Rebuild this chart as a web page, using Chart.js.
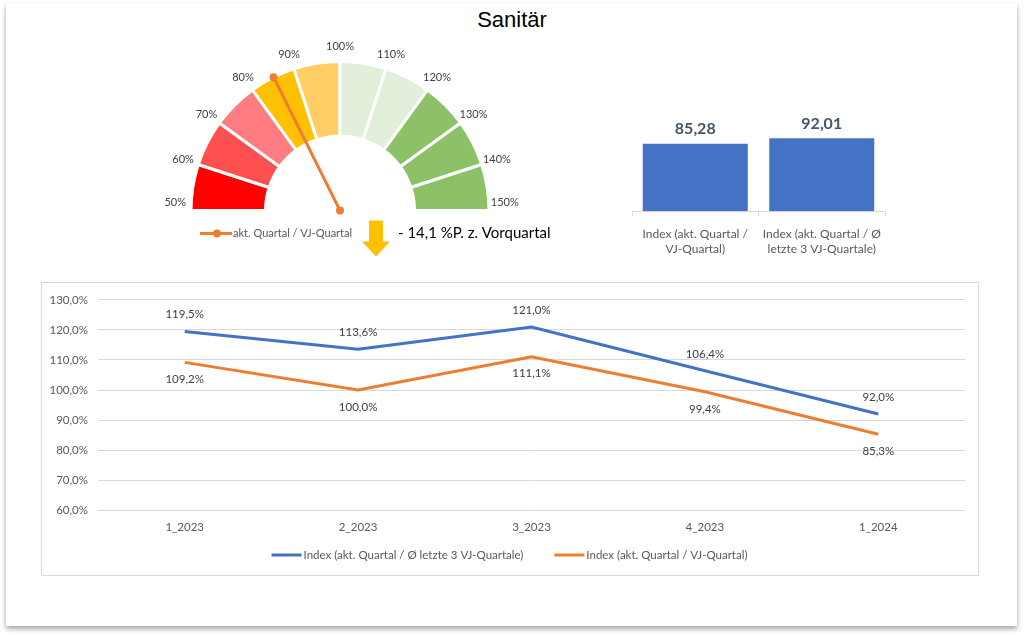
<!DOCTYPE html>
<html>
<head>
<meta charset="utf-8">
<script src="https://cdn.jsdelivr.net/npm/chart.js@4.4.1/dist/chart.umd.min.js"></script>
<style>
  body { margin: 0; width: 1024px; height: 636px; overflow: hidden; position: relative; background: #fff; font-family: Lato, sans-serif; }
  #frame { position: absolute; left: 6px; top: 3px; width: 1011px; height: 623px; background: #fff; box-shadow: 0 3px 5px rgba(0,0,0,.35); }
  #title { position: absolute; left: 0; top: 7px; width: 1024px; text-align: center; font: 22px "Liberation Sans", Arial, sans-serif; color: #000; }
  #lineBox { position: absolute; left: 41px; top: 282px; width: 936px; height: 292px; border: 1px solid #D9D9D9; }
  canvas { position: absolute; }
</style>
</head>
<body>
<div id="frame"></div>
<div id="title">Sanitär</div>
<canvas id="gauge" width="420" height="240" style="left:150px;top:30px"></canvas>
<canvas id="bars" width="320" height="180" style="left:600px;top:98px"></canvas>
<div id="lineBox"><canvas id="lines" width="935" height="291" style="left:0;top:0"></canvas></div>
<script>
// gauge: band boundaries (%) and colours
var gaugeTicks = [50, 60, 70, 80, 90, 100, 110, 120, 130, 140, 150];
var gaugeColors = ['#FF0000', '#FF5050', '#FF7C80', '#FFC000', '#FFCC66', '#E2EFDA', '#E2EFDA', '#8CC168', '#8CC168', '#8CC168'];
var needleValue = 85.28;
var needleLabel = 'akt. Quartal / VJ-Quartal';

// bars
var barLabels = [['Index (akt. Quartal /', 'VJ-Quartal)'], ['Index (akt. Quartal / Ø', 'letzte 3 VJ-Quartale)']];
var barValues = [85.28, 92.01];

// lines
var quarters = ['1_2023', '2_2023', '3_2023', '4_2023', '1_2024'];
var idx3VJ = [119.5, 113.6, 121.0, 106.4, 92.0];
var idxVJ = [109.2, 100.0, 111.1, 99.4, 85.3];

Chart.defaults.font.family = 'Lato';
Chart.defaults.color = '#595959';

function pct(v) { return v.toFixed(1).replace('.', ',') + '%'; }

/*---------------GAUGE-------------------------- */
var bandSizes = [];
for (var i = 1; i < gaugeTicks.length; i++) bandSizes.push(gaugeTicks[i] - gaugeTicks[i - 1]);

var gaugeExtras = {
  id: 'gaugeExtras',
  afterDraw: function (chart) {
    var ctx = chart.ctx;
    var arcs = chart.getDatasetMeta(0).data;
    var cx = arcs[0].x, cy = arcs[0].y, R = arcs[0].outerRadius;
    var a0 = arcs[0].startAngle, a1 = arcs[arcs.length - 1].endAngle;
    var lo = gaugeTicks[0], hi = gaugeTicks[gaugeTicks.length - 1];
    ctx.save();
    // tick labels
    ctx.font = '11px Lato';
    ctx.fillStyle = '#404040';
    ctx.textAlign = 'center';
    ctx.textBaseline = 'middle';
    gaugeTicks.forEach(function (t) {
      var a = a0 + (a1 - a0) * (t - lo) / (hi - lo);
      a = Math.min(Math.max(a, a0 + 0.05), a1 - 0.05);
      ctx.fillText(t + '%', cx + (R + 16) * Math.cos(a), cy + (R + 15) * Math.sin(a));
    });
    // needle
    var an = a0 + (a1 - a0) * (needleValue - lo) / (hi - lo);
    var tx = cx + R * Math.cos(an), ty = cy + R * Math.sin(an);
    ctx.strokeStyle = '#ED7D31';
    ctx.fillStyle = '#ED7D31';
    ctx.lineWidth = 3;
    ctx.beginPath(); ctx.moveTo(cx, cy); ctx.lineTo(tx, ty); ctx.stroke();
    [[cx, cy], [tx, ty]].forEach(function (p) {
      ctx.beginPath(); ctx.arc(p[0], p[1], 4, 0, Math.PI * 2); ctx.fill();
    });
    // legend
    var ly = cy + 23;
    ctx.beginPath(); ctx.moveTo(cx - 140, ly); ctx.lineTo(cx - 108, ly); ctx.stroke();
    ctx.beginPath(); ctx.arc(cx - 123, ly, 4, 0, Math.PI * 2); ctx.fill();
    ctx.fillStyle = '#595959';
    ctx.textAlign = 'left';
    ctx.fillText(needleLabel, cx - 107, ly);
    // change vs previous quarter
    var delta = idxVJ[idxVJ.length - 1] - idxVJ[idxVJ.length - 2];
    var ax = cx + 36, ay = cy + 10;
    ctx.fillStyle = '#FFC000';
    ctx.beginPath();
    if (delta < 0) {
      ctx.moveTo(ax - 7, ay); ctx.lineTo(ax + 7, ay); ctx.lineTo(ax + 7, ay + 21);
      ctx.lineTo(ax + 14, ay + 21); ctx.lineTo(ax, ay + 36); ctx.lineTo(ax - 14, ay + 21);
      ctx.lineTo(ax - 7, ay + 21);
    } else {
      ctx.moveTo(ax - 7, ay + 36); ctx.lineTo(ax + 7, ay + 36); ctx.lineTo(ax + 7, ay + 15);
      ctx.lineTo(ax + 14, ay + 15); ctx.lineTo(ax, ay); ctx.lineTo(ax - 14, ay + 15);
      ctx.lineTo(ax - 7, ay + 15);
    }
    ctx.closePath(); ctx.fill();
    ctx.fillStyle = '#000';
    ctx.font = '15px Lato';
    ctx.fillText((delta < 0 ? '- ' : '+ ') + Math.abs(delta).toFixed(1).replace('.', ',') + ' %P. z. Vorquartal', cx + 58, ly);
    ctx.restore();
  }
};

new Chart(document.getElementById('gauge'), {
  type: 'doughnut',
  data: {
    labels: gaugeTicks.slice(1),
    datasets: [{ data: bandSizes, backgroundColor: gaugeColors, borderColor: '#fff', borderWidth: 3 }]
  },
  options: {
    responsive: false,
    animation: false,
    rotation: -90,
    circumference: 180,
    cutout: '50%',
    layout: { padding: { left: 38, right: 78, top: 30, bottom: 58 } },
    plugins: { legend: { display: false }, tooltip: { enabled: false } }
  },
  plugins: [gaugeExtras]
});

/*---------------BARS-------------------------- */
var barValueLabels = {
  id: 'barValueLabels',
  afterDatasetsDraw: function (chart) {
    var ctx = chart.ctx;
    ctx.save();
    ctx.font = 'bold 16px Lato';
    ctx.fillStyle = '#44546A';
    ctx.textAlign = 'center';
    ctx.textBaseline = 'middle';
    chart.getDatasetMeta(0).data.forEach(function (bar, i) {
      ctx.fillText(barValues[i].toFixed(2).replace('.', ','), bar.x, bar.y - 15);
    });
    ctx.restore();
  }
};

new Chart(document.getElementById('bars'), {
  type: 'bar',
  data: {
    labels: barLabels,
    datasets: [{ data: barValues, backgroundColor: '#4472C4', barPercentage: 0.83, categoryPercentage: 1 }]
  },
  options: {
    responsive: false,
    animation: false,
    layout: { padding: { left: 32, right: 35, top: 0, bottom: 11 } },
    scales: {
      y: { display: false, min: 0, max: 143 },
      x: {
        grid: { drawOnChartArea: false, tickLength: 5, color: '#D9D9D9' },
        border: { color: '#D9D9D9' },
        ticks: { color: '#595959', font: { size: 12 }, maxRotation: 0, padding: 11 }
      }
    },
    plugins: { legend: { display: false }, tooltip: { enabled: false } }
  },
  plugins: [barValueLabels]
});

/*---------------LINES-------------------------- */
var pointLabels = {
  id: 'pointLabels',
  afterDatasetsDraw: function (chart) {
    var ctx = chart.ctx;
    ctx.save();
    ctx.font = '11.5px Lato';
    ctx.fillStyle = '#404040';
    ctx.textAlign = 'center';
    ctx.textBaseline = 'middle';
    chart.data.datasets.forEach(function (ds, d) {
      chart.getDatasetMeta(d).data.forEach(function (pt, i) {
        ctx.fillText(pct(ds.data[i]), pt.x, pt.y + (d === 0 ? -17 : 17));
      });
    });
    ctx.restore();
  }
};

// legend row under the x axis: line sample + label per series
var lineLegend = {
  id: 'lineLegend',
  afterDraw: function (chart) {
    var ctx = chart.ctx;
    var y = chart.height - 19;
    ctx.save();
    ctx.font = '11.5px Lato';
    ctx.textBaseline = 'middle';
    ctx.textAlign = 'left';
    var items = chart.data.datasets.map(function (ds) {
      return { ds: ds, w: 32 + ctx.measureText(ds.label).width };
    });
    var total = items.reduce(function (s, it) { return s + it.w; }, 0) + 31 * (items.length - 1);
    var x = (chart.width - total) / 2;
    items.forEach(function (it) {
      ctx.strokeStyle = it.ds.borderColor;
      ctx.lineWidth = 3;
      ctx.beginPath(); ctx.moveTo(x, y); ctx.lineTo(x + 30, y); ctx.stroke();
      ctx.fillStyle = '#595959';
      ctx.fillText(it.ds.label, x + 32, y);
      x += it.w + 31;
    });
    ctx.restore();
  }
};

new Chart(document.getElementById('lines'), {
  type: 'line',
  data: {
    labels: quarters,
    datasets: [{
      label: 'Index (akt. Quartal / Ø letzte 3 VJ-Quartale)',
      data: idx3VJ,
      borderColor: '#4472C4',
      backgroundColor: '#4472C4',
      borderWidth: 3,
      pointRadius: 0
    }, {
      label: 'Index (akt. Quartal / VJ-Quartal)',
      data: idxVJ,
      borderColor: '#ED7D31',
      backgroundColor: '#ED7D31',
      borderWidth: 3,
      pointRadius: 0
    }]
  },
  options: {
    responsive: false,
    animation: false,
    layout: { padding: { left: 0, right: 12, top: 14, bottom: 30 } },
    scales: {
      y: {
        min: 60, max: 130,
        afterFit: function (s) { s.width = 56; },
        ticks: { stepSize: 10, padding: 10, color: '#595959', font: { size: 11.5 }, callback: function (v) { return pct(v); } },
        grid: { color: '#D9D9D9', drawTicks: false },
        border: { display: false }
      },
      x: {
        offset: true,
        grid: { display: false, drawTicks: false },
        border: { display: false },
        ticks: { padding: 10, color: '#595959', font: { size: 11.5 } }
      }
    },
    plugins: {
      legend: { display: false },
      tooltip: { enabled: false }
    }
  },
  plugins: [pointLabels, lineLegend]
});
</script>
</body>
</html>
